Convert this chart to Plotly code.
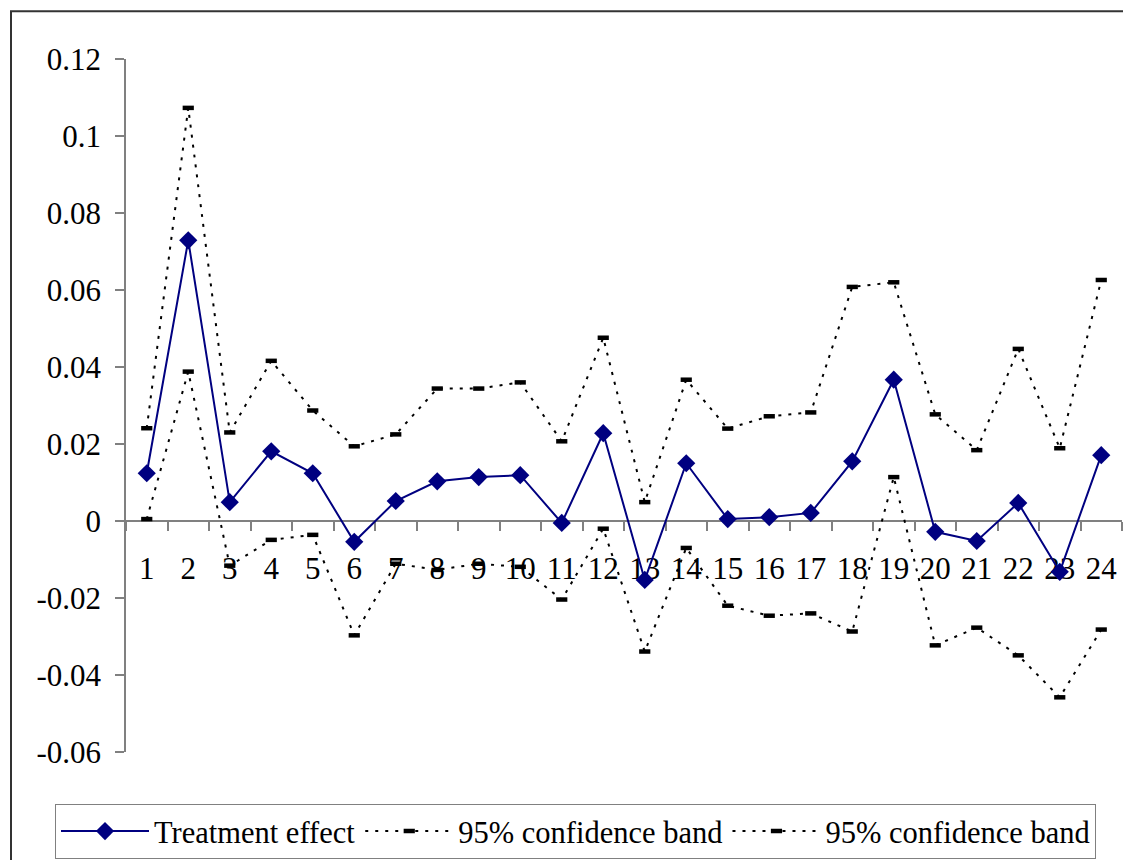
import plotly.graph_objects as go

periods = [str(i) for i in range(1, 25)]
treatment = [0.0124, 0.0729, 0.0049, 0.0181, 0.0124, -0.0054, 0.0052, 0.0103, 0.0114, 0.0119,
             -0.0005, 0.0228, -0.0153, 0.0150, 0.0005, 0.0010, 0.0021, 0.0155, 0.0367, -0.0028,
             -0.0052, 0.0047, -0.0132, 0.0171]
upper = [0.0241, 0.1073, 0.0230, 0.0416, 0.0287, 0.0194, 0.0225, 0.0344, 0.0344, 0.0360,
         0.0207, 0.0476, 0.0049, 0.0367, 0.0240, 0.0272, 0.0282, 0.0608, 0.0620, 0.0277,
         0.0184, 0.0447, 0.0189, 0.0626]
lower = [0.0005, 0.0388, -0.0116, -0.0049, -0.0036, -0.0297, -0.0111, -0.0127, -0.0111, -0.0119,
         -0.0204, -0.0020, -0.0339, -0.0070, -0.0220, -0.0246, -0.0240, -0.0287, 0.0114, -0.0323,
         -0.0277, -0.0349, -0.0458, -0.0282]
ytick_vals = [-0.06, -0.04, -0.02, 0, 0.02, 0.04, 0.06, 0.08, 0.1, 0.12]
ytick_text = ["-0.06", "-0.04", "-0.02", "0", "0.02", "0.04", "0.06", "0.08", "0.1", "0.12"]

FONT = "Liberation Serif"

fig = go.Figure()
fig.add_trace(go.Scatter(
    x=periods, y=treatment, name="Treatment effect", mode="lines+markers",
    line=dict(color="#000080", width=2),
    marker=dict(symbol="diamond", size=14, color="#000080", line=dict(color="#000080", width=0)),
))
for vals in (upper, lower):
    fig.add_trace(go.Scatter(
        x=periods, y=vals, name="95% confidence band", mode="lines+markers",
        line=dict(color="black", width=2, dash="3px,7px"),
        marker=dict(symbol="line-ew", size=8, color="black", line=dict(color="black", width=4.5)),
    ))

W, H = 1123, 860
L, R, T, B = 126, 1, 59, 105
pw, ph = W - L - R, H - T - B

def px_x(px):
    return (px - L) / pw

def px_y(py):
    return (H - B - py) / ph

fig.update_layout(
    width=W, height=H,
    margin=dict(l=L, r=R, t=T, b=B),
    paper_bgcolor="white", plot_bgcolor="white",
    font=dict(family=FONT, color="black", size=31),
    showlegend=True,
    legend=dict(
        orientation="h", x=px_x(55), y=px_y(807), xanchor="left", yanchor="top",
        bordercolor="#808080", borderwidth=1, bgcolor="white",
        font=dict(family=FONT, size=30.5, color="black"),
        itemwidth=88, traceorder="normal", itemclick=False,
    ),
    xaxis=dict(
        type="category", range=[-0.5, 23.5],
        anchor="free", position=1/3,
        showline=True, linecolor="#808080", linewidth=1.5,
        ticks="outside", tickson="boundaries", ticklen=9, tickcolor="#808080", tickwidth=1.5,
        showgrid=False, zeroline=False, layer="below traces",
        ticklabelstandoff=20,
        tickfont=dict(family=FONT, size=31, color="black"),
    ),
    yaxis=dict(
        range=[-0.06, 0.12], tickvals=ytick_vals, ticktext=ytick_text,
        showline=True, linecolor="#808080", linewidth=1.5,
        ticks="outside", ticklen=9, tickcolor="#808080", tickwidth=1.5,
        showgrid=False, zeroline=False,
        ticklabelstandoff=8,
        tickfont=dict(family=FONT, size=31, color="black"),
    ),
    shapes=[dict(
        type="rect", xref="paper", yref="paper",
        x0=px_x(11), x1=px_x(1135), y0=px_y(875), y1=px_y(11),
        line=dict(color="#333333", width=2), fillcolor="rgba(0,0,0,0)", layer="below",
    )],
)

fig.write_html(
    "out.html",
    config={"displayModeBar": False},
    post_script="document.body.style.margin='0';document.body.style.overflow='hidden';",
)
